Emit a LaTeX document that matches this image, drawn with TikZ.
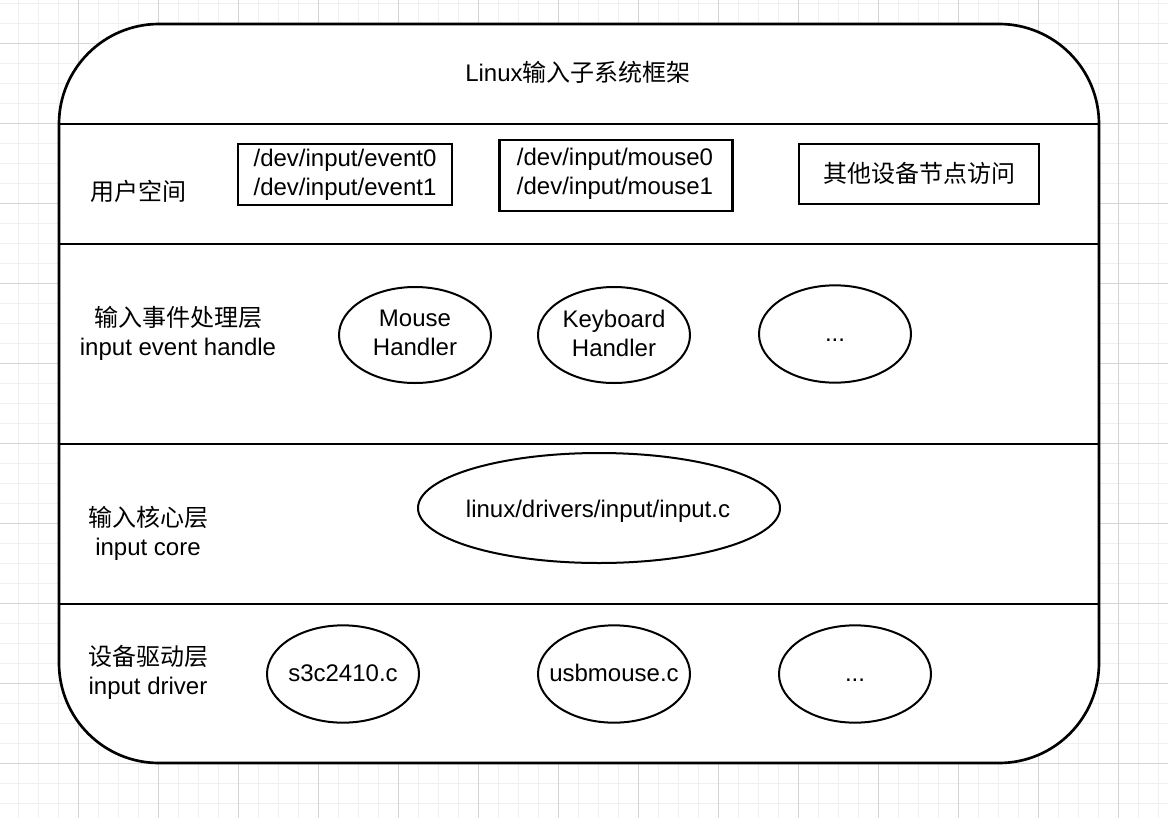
\documentclass[tikz,border=0pt]{standalone}
\usepackage{fontspec}
\setmainfont{Liberation Sans}
\newfontfamily\cjk{Noto Sans CJK SC}
\usetikzlibrary{shapes.geometric}
\tikzset{
  txt/.style={inner sep=0pt, align=center, font=\fontsize{18}{21.75}\selectfont},
  btxt/.style={txt, anchor=base},
  oval/.style={draw, ellipse, line width=1.5pt, inner sep=0pt, minimum width=114pt, minimum height=73pt},
  devbox/.style={draw, rectangle, line width=2pt, inner sep=0pt},
  frame/.style={draw, line width=2pt, fill=white},
  gridminor/.style={draw=black!6, line width=0.75pt},
  gridmajor/.style={draw=black!17, line width=0.75pt}
}
\begin{document}
\begin{tikzpicture}[x=0.75pt,y=-0.75pt]
\useasboundingbox (0,0) rectangle (1168,818);
\fill[white] (0,0) rectangle (1168,818);
% background grid
\foreach \gx in {18,38,...,1158} \draw[gridminor] (\gx,0) -- (\gx,818);
\foreach \gy in {3,23,...,803} \draw[gridminor] (0,\gy) -- (1168,\gy);
\foreach \gx in {78,158,...,1118} \draw[gridmajor] (\gx,0) -- (\gx,818);
\foreach \gy in {43,123,...,763} \draw[gridmajor] (0,\gy) -- (1168,\gy);
% outer frame
\draw[frame, rounded corners=75pt] (59,24) rectangle (1099,763);
\coordinate (l1) at (59,124);  \coordinate (r1) at (1099,124);
\coordinate (l2) at (59,244);  \coordinate (r2) at (1099,244);
\coordinate (l3) at (59,444);  \coordinate (r3) at (1099,444);
\coordinate (l4) at (59,604);  \coordinate (r4) at (1099,604);
\draw[line width=2pt] (l1) -- (r1);
\draw[line width=2pt] (l2) -- (r2);
\draw[line width=2pt] (l3) -- (r3);
\draw[line width=2pt] (l4) -- (r4);
% title
\node[btxt] (title) at (578,81) {Linux{\cjk 输入子系统框架}};
% user space
\node[btxt] (ulab) at (138,200) {{\cjk 用户空间}};
\node[devbox, minimum width=160.5pt, minimum height=45.75pt] (ev) at (345,174.5) {};
\node[txt] (evt) at (ev) {/dev/input/event0\\/dev/input/event1};
\node[devbox, minimum width=174.75pt, minimum height=53.25pt] (mo) at (616,175.5) {};
\node[txt] (mot) at (615,174) {/dev/input/mouse0\\/dev/input/mouse1};
\node[devbox, minimum width=180pt, minimum height=45pt] (ot) at (919,174) {};
\node[btxt] (ott) at (919,182) {{\cjk 其他设备节点访问}};
% event handler layer
\node[txt] (hlab) at (178,333) {{\cjk 输入事件处理层}\\input event handle};
\node[oval, minimum height=72pt] (mh) at (415,335) {};
\node[txt] (mht) at (415,333) {Mouse\\Handler};
\node[oval, minimum height=72pt] (kh) at (614,335) {};
\node[txt] (kht) at (614,333) {Keyboard\\Handler};
\node[oval] (d1) at (835,334) {};
\node[btxt] (d1t) at (835,341) {...};
% core layer
\node[txt] (clab) at (148,533) {{\cjk 输入核心层}\\input core};
\node[oval, minimum width=271.5pt, minimum height=82.5pt] (ic) at (599,508) {};
\node[btxt] (ict) at (598,517) {linux/drivers/input/input.c};
% driver layer
\node[txt] (dlab) at (148,672) {{\cjk 设备驱动层}\\input driver};
\node[oval] (s3) at (343,674) {};
\node[btxt] (s3t) at (343,681.5) {s3c2410.c};
\node[oval] (us) at (614,674) {};
\node[btxt] (ust) at (614,681.5) {usbmouse.c};
\node[oval] (d2) at (855,674) {};
\node[btxt] (d2t) at (855,681.5) {...};
\end{tikzpicture}
\end{document}
